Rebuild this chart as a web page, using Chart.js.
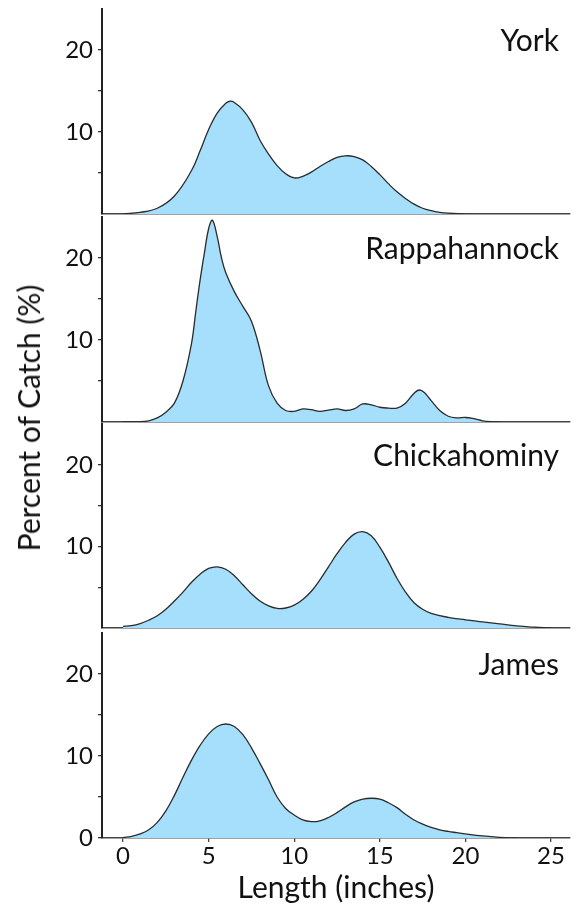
<!DOCTYPE html>
<html>
<head>
<meta charset="utf-8">
<script src="https://cdn.jsdelivr.net/npm/chart.js@4/dist/chart.umd.min.js"></script>
<style>
  html, body { margin: 0; padding: 0; background: #ffffff; }
  #wrap { position: relative; width: 574px; height: 905px; overflow: hidden; }
  #wrap canvas { position: absolute; left: 0; }
  #ytitle {
    position: absolute; left: 28px; top: 418px;
    transform: translate(-50%, -50%) rotate(-90deg);
    font: 30px Lato, sans-serif; color: #111; white-space: nowrap;
  }
</style>
</head>
<body>
<div id="wrap">
  <canvas id="c0"></canvas>
  <canvas id="c1"></canvas>
  <canvas id="c2"></canvas>
  <canvas id="c3"></canvas>
  <div id="ytitle">Percent of Catch (%)</div>
</div>
<script>
// ---------------- DATA ----------------
const regions = ['York', 'Rappahannock', 'Chickahominy', 'James'];

const yorkLength  = [0, 1, 2, 3, 4, 4.5, 5, 5.5, 6, 6.25, 6.5, 7, 7.5, 8, 8.5, 9, 9.5, 10, 10.5, 11, 11.5, 12, 12.5, 13, 13.5, 14, 14.5, 15, 15.5, 16, 16.5, 17, 17.5, 18, 18.5, 19, 20];
const yorkPercent = [0.02, 0.2, 0.7, 2.2, 5.3, 7.7, 10.3, 12.3, 13.5, 13.75, 13.6, 12.7, 11.2, 9.0, 7.3, 5.9, 4.9, 4.4, 4.6, 5.1, 5.8, 6.4, 6.9, 7.1, 7.0, 6.6, 5.8, 4.8, 3.7, 2.7, 1.9, 1.2, 0.7, 0.4, 0.2, 0.1, 0.02];

const rappLength  = [0, 1, 1.5, 2, 2.5, 3, 3.5, 4, 4.25, 4.5, 4.75, 5, 5.22, 5.5, 5.75, 6, 6.5, 7, 7.5, 8, 8.5, 9, 9.5, 10, 10.5, 11, 11.5, 12, 12.5, 13, 13.5, 14, 14.5, 15, 15.5, 16, 16.5, 17, 17.3, 17.6, 18, 18.5, 19, 19.5, 20, 20.5, 21, 21.5, 22];
const rappPercent = [0, 0.03, 0.15, 0.5, 1.2, 2.3, 5.0, 9.6, 13.5, 17.3, 20.6, 23.6, 24.6, 22.6, 20.0, 18.2, 15.9, 14.1, 12.3, 8.8, 4.4, 2.3, 1.4, 1.3, 1.6, 1.5, 1.3, 1.45, 1.6, 1.4, 1.6, 2.2, 2.1, 1.8, 1.7, 1.7, 2.3, 3.5, 3.9, 3.6, 2.6, 1.4, 0.7, 0.5, 0.55, 0.4, 0.15, 0.03, 0];

const chickLength  = [0, 0.5, 1, 1.5, 2, 2.5, 3, 3.5, 4, 4.5, 5, 5.5, 6, 6.5, 7, 7.5, 8, 8.5, 9, 9.5, 10, 10.5, 11, 11.5, 12, 12.5, 13, 13.5, 14, 14.5, 15, 15.5, 16, 16.5, 17, 17.5, 18, 19, 20, 21, 22, 23, 24, 25];
const chickPercent = [0.2, 0.3, 0.55, 0.95, 1.5, 2.3, 3.3, 4.4, 5.6, 6.6, 7.3, 7.5, 7.2, 6.4, 5.3, 4.2, 3.3, 2.7, 2.4, 2.45, 2.8, 3.5, 4.5, 5.9, 7.5, 9.1, 10.5, 11.5, 11.8, 11.3, 9.9, 8.1, 6.1, 4.4, 3.1, 2.3, 1.8, 1.3, 1.0, 0.75, 0.5, 0.25, 0.1, 0];

const jamesLength  = [0, 0.5, 1, 1.5, 2, 2.5, 3, 3.5, 4, 4.5, 5, 5.5, 6, 6.5, 7, 7.5, 8, 8.5, 9, 9.5, 10, 10.5, 11, 11.5, 12, 12.5, 13, 13.5, 14, 14.5, 15, 15.5, 16, 16.5, 17, 17.5, 18, 18.5, 19, 19.5, 20, 21, 22, 23];
const jamesPercent = [0.05, 0.2, 0.5, 1.0, 1.9, 3.3, 5.2, 7.4, 9.5, 11.3, 12.7, 13.6, 13.9, 13.6, 12.6, 11.0, 9.1, 7.1, 5.0, 3.6, 2.8, 2.2, 2.0, 2.1, 2.5, 3.1, 3.8, 4.4, 4.75, 4.85, 4.75, 4.3, 3.7, 2.9, 2.2, 1.7, 1.3, 1.0, 0.8, 0.65, 0.5, 0.25, 0.08, 0];

const seriesLength  = [yorkLength, rappLength, chickLength, jamesLength];
const seriesPercent = [yorkPercent, rappPercent, chickPercent, jamesPercent];

const xTickValues = [0, 5, 10, 15, 20, 25];
const yTickValues = [0, 5, 10, 15, 20, 25];
const yLabelValues = [10, 20];

const xAxisTitle = 'Length (inches)';

// ---------------- LAYOUT / STYLE ----------------
const panelTop    = [9, 217, 424, 633];
const panelBottom = [214, 422, 628, 838];
const PAGE_H = 905;
const AXIS_LEFT = 102;
const FILL = '#a6dffb';
const LINE = '#2b2b2b';
const TEXT = '#111111';

const panelLabelPlugin = {
  id: 'panelLabel',
  afterDraw(chart, args, opts) {
    const { ctx, chartArea } = chart;
    ctx.save();
    ctx.font = '30px Lato, sans-serif';
    ctx.fillStyle = TEXT;
    ctx.textAlign = 'right';
    ctx.textBaseline = 'alphabetic';
    ctx.fillText(opts.text, chartArea.right - 11, chartArea.top + 42);
    ctx.restore();
  }
};

function zeroPad(scale) {
  scale.paddingLeft = 0; scale.paddingRight = 0;
  scale.paddingTop = 0; scale.paddingBottom = 0;
}

function build() {
  for (let i = 0; i < 4; i++) {
    const isBottom = i === 3;
    const canvas = document.getElementById('c' + i);
    const top = panelTop[i] - 6;
    const h = isBottom ? (PAGE_H - top) : (panelBottom[i] - panelTop[i] + 12);
    canvas.style.top = top + 'px';
    canvas.width = 574; canvas.height = h;
    canvas.style.width = '574px'; canvas.style.height = h + 'px';

    const points = seriesLength[i].map((x, j) => ({ x: x, y: seriesPercent[i][j] }));

    new Chart(canvas, {
      type: 'line',
      data: {
        datasets: [{
          label: regions[i],
          data: points,
          fill: 'origin',
          backgroundColor: FILL,
          borderColor: LINE,
          borderWidth: 1.3,
          pointRadius: 0,
          tension: 0.4
        }]
      },
      options: {
        responsive: false,
        animation: false,
        events: [],
        layout: { padding: { top: 6, right: 4, left: 0, bottom: isBottom ? 0 : 6 } },
        plugins: {
          legend: { display: false },
          tooltip: { enabled: false },
          panelLabel: { text: regions[i] }
        },
        scales: {
          x: {
            type: 'linear',
            min: -1.23, max: 26.11,
            afterBuildTicks: s => { s.ticks = xTickValues.map(v => ({ value: v })); },
            afterFit: s => { s.height = isBottom ? (PAGE_H - panelBottom[3]) : 0; zeroPad(s); },
            border: { display: true, color: '#444', width: 1.5 },
            grid: { display: isBottom, drawOnChartArea: false, drawTicks: true, tickLength: 4, color: '#444', lineWidth: 1.3 },
            ticks: {
              display: isBottom,
              padding: 0,
              color: TEXT,
              font: { family: 'Lato', size: 24 },
              maxRotation: 0,
              callback: v => String(v)
            },
            title: {
              display: isBottom,
              text: xAxisTitle,
              color: TEXT,
              font: { family: 'Lato', size: 30, lineHeight: 1 },
              padding: { top: 0, bottom: 2 }
            }
          },
          y: {
            type: 'linear',
            min: 0, max: 25,
            afterBuildTicks: s => { s.ticks = yTickValues.map(v => ({ value: v })); },
            afterFit: s => { s.width = AXIS_LEFT; zeroPad(s); },
            border: { display: true, color: '#222', width: 2 },
            grid: {
              drawOnChartArea: false, drawTicks: true, tickLength: 4, lineWidth: 1.3,
              color: ctx => {
                const v = ctx.tick ? ctx.tick.value : null;
                if (v === 25) return 'rgba(0,0,0,0)';
                if (v === 0 && !isBottom) return 'rgba(0,0,0,0)';
                return '#333';
              }
            },
            ticks: {
              padding: 5,
              color: TEXT,
              font: { family: 'Lato', size: 24 },
              callback: v => (yLabelValues.includes(v) || (isBottom && v === 0)) ? String(v) : ''
            }
          }
        }
      },
      plugins: [panelLabelPlugin]
    });
  }
}

if (document.fonts && document.fonts.load) {
  Promise.all([document.fonts.load('24px Lato'), document.fonts.load('30px Lato')])
    .then(build, build);
} else {
  build();
}
</script>
</body>
</html>
